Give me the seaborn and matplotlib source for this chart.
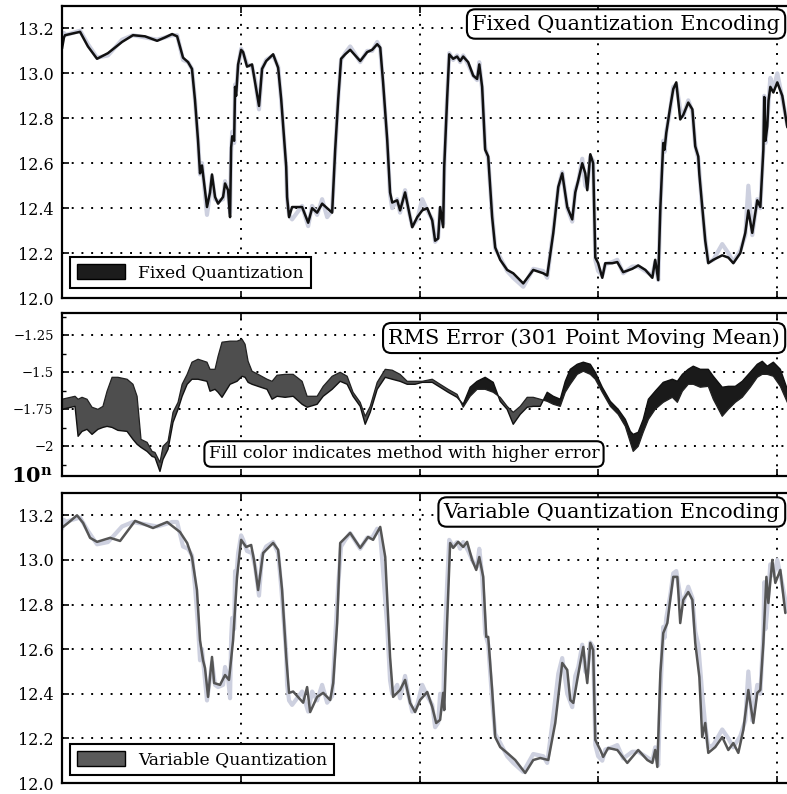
# Fixed vs variable quantization encoding with RMS error between them

import pandas as pd
import matplotlib
matplotlib.use("Agg")
import matplotlib.pyplot as plt
import seaborn as sns
from matplotlib.patches import Patch

# ---- data (sample index, value) ----
fixed_x = [0, 11, 17, 101, 145, 196, 257, 336, 397, 464, 532, 576, 616, 644, 677, 705, 727, 744,
           761, 772, 783, 811, 828, 839, 856, 873, 901, 912, 929, 940, 946, 952, 963, 968, 974,
           985, 1002, 1013, 1035, 1063, 1080, 1102, 1119, 1142, 1181, 1209, 1226, 1237, 1254,
           1259, 1270, 1287, 1343, 1377, 1399, 1427, 1455, 1483, 1511, 1528, 1545, 1561, 1584,
           1612, 1668, 1707, 1735, 1763, 1780, 1796, 1819, 1835, 1847, 1875, 1891, 1919, 1936,
           1959, 1987, 2015, 2043, 2071, 2087, 2104, 2115, 2132, 2138, 2154, 2166, 2188, 2210,
           2227, 2244, 2272, 2300, 2322, 2334, 2350, 2367, 2384, 2406, 2423, 2451, 2490, 2524,
           2580, 2636, 2692, 2714, 2748, 2776, 2798, 2826, 2854, 2871, 2888, 2910, 2927, 2938,
           2955, 2971, 2983, 2999, 3022, 3039, 3078, 3106, 3139, 3190, 3223, 3263, 3302, 3318,
           3335, 3347, 3363, 3370, 3380, 3402, 3419, 3436, 3458, 3475, 3503, 3526, 3542, 3559,
           3565, 3581, 3598, 3615, 3643, 3693, 3727, 3755, 3794, 3822, 3839, 3861, 3889, 3906,
           3923, 3928, 3935, 3945, 3952, 3962, 3979, 4001, 4029, 4057]
fixed_y = [13.11, 13.16, 13.17, 13.185, 13.12, 13.065, 13.09, 13.14, 13.17, 13.165, 13.145, 13.16,
           13.175, 13.165, 13.07, 13.05, 13.02, 12.88, 12.70, 12.555, 12.59, 12.405, 12.47, 12.55,
           12.45, 12.42, 12.45, 12.51, 12.48, 12.36, 12.67, 12.72, 12.70, 12.94, 12.90, 13.04,
           13.105, 13.095, 13.03, 13.04, 12.96, 12.855, 13.02, 13.055, 13.085, 13.025, 12.885,
           12.765, 12.585, 12.45, 12.36, 12.405, 12.405, 12.335, 12.40, 12.38, 12.42, 12.40, 12.38,
           12.66, 12.885, 13.065, 13.085, 13.105, 13.055, 13.095, 13.105, 13.13, 13.115, 12.96,
           12.705, 12.47, 12.425, 12.435, 12.39, 12.47, 12.405, 12.315, 12.36, 12.39, 12.40,
           12.345, 12.255, 12.265, 12.405, 12.315, 12.585, 12.885, 13.085, 13.065, 13.075, 13.055,
           13.075, 13.05, 12.99, 12.975, 13.04, 12.94, 12.66, 12.63, 12.36, 12.225, 12.17, 12.125,
           12.11, 12.065, 12.125, 12.11, 12.10, 12.29, 12.495, 12.555, 12.405, 12.35, 12.47,
           12.525, 12.60, 12.555, 12.48, 12.64, 12.60, 12.18, 12.155, 12.09, 12.155, 12.155,
           12.16, 12.115, 12.13, 12.145, 12.125, 12.09, 12.17, 12.08, 12.405, 12.69, 12.66,
           12.735, 12.85, 12.93, 12.96, 12.795, 12.815, 12.87, 12.84, 12.675, 12.63, 12.55,
           12.405, 12.255, 12.155, 12.17, 12.19, 12.18, 12.155, 12.20, 12.29, 12.39, 12.29,
           12.435, 12.405, 12.66, 12.895, 12.70, 12.765, 12.88, 12.94, 12.915, 12.96, 12.90, 12.76]

# raw signal, drawn light behind both encodings (same sample positions as fixed_x)
raw_y = [13.14, 13.18, 13.17, 13.19, 13.13, 13.07, 13.08, 13.15, 13.17, 13.16, 13.15, 13.16,
         13.17, 13.17, 13.06, 13.05, 13.02, 12.88, 12.70, 12.55, 12.60, 12.37, 12.47, 12.54,
         12.44, 12.43, 12.44, 12.52, 12.47, 12.38, 12.65, 12.74, 12.69, 12.95, 12.92, 13.03,
         13.11, 13.09, 13.04, 13.03, 12.97, 12.84, 13.02, 13.06, 13.08, 13.03, 12.88,
         12.76, 12.58, 12.44, 12.37, 12.35, 12.41, 12.32, 12.41, 12.37, 12.44, 12.36, 12.39,
         12.65, 12.89, 13.06, 13.09, 13.12, 13.05, 13.10, 13.10, 13.14, 13.11, 12.95,
         12.70, 12.46, 12.40, 12.44, 12.38, 12.48, 12.40, 12.32, 12.35, 12.44, 12.39,
         12.35, 12.25, 12.27, 12.40, 12.33, 12.58, 12.89, 13.09, 13.06, 13.08, 13.05,
         13.08, 13.04, 12.99, 12.97, 13.05, 12.93, 12.67, 12.62, 12.37, 12.22, 12.18, 12.12,
         12.09, 12.05, 12.13, 12.12, 12.09, 12.30, 12.49, 12.56, 12.40, 12.34, 12.48,
         12.52, 12.62, 12.50, 12.49, 12.63, 12.61, 12.17, 12.12, 12.10, 12.15, 12.16,
         12.17, 12.11, 12.14, 12.14, 12.12, 12.10, 12.16, 12.08, 12.40, 12.70, 12.65,
         12.74, 12.84, 12.94, 12.95, 12.84, 12.81, 12.88, 12.83, 12.68, 12.62, 12.56,
         12.40, 12.26, 12.16, 12.17, 12.24, 12.20, 12.16, 12.21, 12.28, 12.50, 12.28,
         12.44, 12.40, 12.67, 12.90, 12.69, 12.78, 12.87, 12.98, 12.93, 13.00, 12.89, 12.77]

var_x = [6, 34, 84, 118, 157, 196, 269, 325, 409, 509, 588, 660, 700, 727, 755, 772, 789, 800,
         817, 839, 851, 884, 912, 934, 957, 979, 1002, 1030, 1058, 1074, 1097, 1125, 1181, 1209,
         1231, 1254, 1270, 1293, 1349, 1371, 1388, 1427, 1461, 1500, 1517, 1539, 1556, 1612,
         1668, 1712, 1740, 1780, 1808, 1835, 1852, 1891, 1919, 1947, 1975, 2003, 2043, 2071,
         2093, 2115, 2132, 2138, 2154, 2171, 2188, 2216, 2244, 2266, 2294, 2317, 2334, 2356,
         2373, 2384, 2406, 2423, 2451, 2490, 2535, 2591, 2636, 2675, 2720, 2759, 2798, 2826,
         2843, 2860, 2882, 2899, 2916, 2927, 2938, 2955, 2971, 2983, 3011, 3027, 3055, 3106,
         3162, 3223, 3274, 3302, 3318, 3330, 3347, 3363, 3386, 3402, 3419, 3442, 3458, 3475,
         3503, 3526, 3542, 3565, 3581, 3598, 3615, 3654, 3693, 3727, 3755, 3783, 3811, 3839,
         3867, 3889, 3906, 3923, 3940, 3951, 3973, 3990, 4018, 4046]
var_y = [13.148, 13.166, 13.20, 13.166, 13.099, 13.081, 13.099, 13.085, 13.175, 13.143, 13.17,
         13.125, 13.076, 13.013, 12.865, 12.64, 12.55, 12.515, 12.386, 12.565, 12.448, 12.44,
         12.484, 12.462, 12.64, 12.924, 13.09, 13.058, 13.067, 13.00, 12.865, 13.031, 13.076,
         13.045, 12.865, 12.565, 12.404, 12.41, 12.36, 12.43, 12.318, 12.386, 12.404, 12.372,
         12.448, 12.717, 13.076, 13.121, 13.054, 13.103, 13.09, 13.148, 13.013, 12.565, 12.386,
         12.417, 12.462, 12.359, 12.318, 12.372, 12.408, 12.341, 12.269, 12.283, 12.404, 12.327,
         12.717, 13.076, 13.054, 13.081, 13.058, 13.081, 13.00, 12.955, 13.013, 12.924, 12.655,
         12.655, 12.417, 12.206, 12.161, 12.135, 12.103, 12.045, 12.103, 12.112, 12.103, 12.269,
         12.538, 12.507, 12.372, 12.359, 12.462, 12.538, 12.61, 12.52, 12.448, 12.628, 12.596,
         12.193, 12.148, 12.117, 12.157, 12.148, 12.09, 12.148, 12.103, 12.09, 12.148, 12.072,
         12.493, 12.672, 12.717, 12.821, 12.924, 12.924, 12.717, 12.821, 12.856, 12.821, 12.628,
         12.475, 12.206, 12.269, 12.135, 12.161, 12.206, 12.148, 12.179, 12.135, 12.238, 12.417,
         12.269, 12.404, 12.417, 12.628, 12.924, 12.807, 13.00, 12.897, 12.955, 12.762]

# RMS error, log10, 301 point moving mean
err_x = [0, 73, 90, 112, 140, 168, 201, 229, 252, 280, 313, 364, 397, 420, 442, 476, 504, 520,
         548, 565, 593, 621, 649, 672, 700, 727, 761, 811, 828, 856, 873, 895, 940, 979, 1007,
         1024, 1041, 1063, 1097, 1147, 1175, 1203, 1248, 1293, 1343, 1371, 1427, 1461, 1511,
         1556, 1595, 1628, 1668, 1696, 1724, 1763, 1808, 1847, 1891, 1931, 1975, 2015, 2071,
         2115, 2160, 2210, 2244, 2283, 2322, 2367, 2412, 2451, 2490, 2524, 2563, 2602, 2636,
         2675, 2714, 2748, 2787, 2815, 2843, 2882, 2916, 2955, 2983, 3022, 3067, 3111, 3151,
         3179, 3195, 3223, 3251, 3280, 3318, 3363, 3414, 3442, 3470, 3503, 3531, 3570, 3615,
         3643, 3693, 3727, 3766, 3805, 3850, 3889, 3917, 3945, 3979, 4018, 4057]
err_fixed = [-1.750, -1.730, -1.932, -1.899, -1.885, -1.919, -1.885, -1.872, -1.865, -1.872,
             -1.892, -1.899, -1.953, -1.986, -2.007, -2.034, -2.068, -2.074, -2.169, -2.088,
             -2.020, -1.838, -1.750, -1.662, -1.581, -1.547, -1.547, -1.561, -1.628, -1.615,
             -1.635, -1.669, -1.581, -1.561, -1.527, -1.534, -1.568, -1.581, -1.595, -1.615,
             -1.682, -1.662, -1.669, -1.662, -1.716, -1.736, -1.716, -1.662, -1.615, -1.561,
             -1.581, -1.662, -1.730, -1.851, -1.770, -1.615, -1.534, -1.547, -1.561, -1.581,
             -1.581, -1.568, -1.568, -1.601, -1.635, -1.669, -1.716, -1.601, -1.561, -1.534,
             -1.568, -1.696, -1.750, -1.851, -1.784, -1.736, -1.730, -1.730, -1.635, -1.662,
             -1.682, -1.561, -1.480, -1.446, -1.432, -1.446, -1.500, -1.601, -1.696, -1.750,
             -1.818, -1.899, -1.919, -1.905, -1.818, -1.682, -1.628, -1.568, -1.547, -1.561,
             -1.514, -1.480, -1.459, -1.480, -1.480, -1.527, -1.601, -1.595, -1.595, -1.561,
             -1.500, -1.446, -1.426, -1.459, -1.432, -1.480, -1.615]
err_var = [-1.682, -1.662, -1.682, -1.669, -1.682, -1.736, -1.750, -1.730, -1.628, -1.534,
           -1.534, -1.547, -1.581, -1.662, -1.953, -1.973, -2.034, -2.041, -2.108, -2.000,
           -1.966, -1.770, -1.703, -1.581, -1.514, -1.432, -1.412, -1.432, -1.480, -1.480,
           -1.392, -1.297, -1.290, -1.290, -1.277, -1.311, -1.426, -1.493, -1.514, -1.547,
           -1.561, -1.520, -1.514, -1.514, -1.561, -1.662, -1.662, -1.595, -1.527, -1.500,
           -1.527, -1.635, -1.703, -1.797, -1.730, -1.568, -1.480, -1.486, -1.514, -1.561,
           -1.561, -1.561, -1.547, -1.581, -1.615, -1.649, -1.736, -1.662, -1.615, -1.615,
           -1.635, -1.669, -1.730, -1.770, -1.730, -1.669, -1.669, -1.682, -1.696, -1.716,
           -1.730, -1.635, -1.581, -1.514, -1.493, -1.514, -1.547, -1.635, -1.730, -1.784,
           -1.865, -1.973, -2.034, -2.000, -1.905, -1.818, -1.750, -1.703, -1.669, -1.703,
           -1.628, -1.581, -1.581, -1.601, -1.595, -1.682, -1.797, -1.750, -1.703, -1.669,
           -1.601, -1.534, -1.514, -1.514, -1.527, -1.595, -1.703]

grid_x = [1000, 2000, 3000, 4000]
value_ticks = [12.0, 12.2, 12.4, 12.6, 12.8, 13.0, 13.2]
err_ticks = [-2.0, -1.75, -1.5, -1.25]
err_tick_labels = ["\u22122", "\u22121.75", "\u22121.5", "\u22121.25"]

fixed_df = pd.DataFrame({"sample": fixed_x, "value": fixed_y, "raw": raw_y})
var_df = pd.DataFrame({"sample": var_x, "value": var_y})
err_df = pd.DataFrame({"sample": err_x, "fixed": err_fixed, "variable": err_var})

# ---- style ----
sns.set_theme(style="ticks")
plt.rcParams["font.family"] = ["DejaVu Serif"]
plt.rcParams["mathtext.fontset"] = "dejavuserif"
plt.rcParams["text.color"] = "black"

W, H = 787, 794
fig = plt.figure(figsize=(W / 100, H / 100), dpi=100)
fig.patch.set_facecolor("white")


def px_axes(left, top, right, bottom):
    return fig.add_axes([left / W, 1 - bottom / H, (right - left) / W, (bottom - top) / H])


def style_axes(ax, labelsize):
    ax.set_xlim(0, 4100)
    ax.set_xticks(grid_x)
    ax.set_xticklabels([])
    ax.tick_params(axis="both", which="both", direction="in", color="black", top=True, right=False)
    ax.tick_params(axis="both", which="major", length=5, width=1.2)
    ax.tick_params(axis="y", labelsize=labelsize, pad=6, labelcolor="black")
    for s in ax.spines.values():
        s.set_linewidth(1.6)
        s.set_color("black")
    ax.grid(True, color="black", linestyle=(0, (1, 4)), linewidth=1.4)
    ax.set_axisbelow(True)
    ax.set_xlabel("")
    ax.set_ylabel("")


box = dict(boxstyle="round,pad=0.25,rounding_size=0.4", fc="white", ec="black", lw=1.5)
raw_color = "#cdd0df"

# ---- top: fixed quantization ----
ax1 = px_axes(62, 6, 795, 298)
sns.lineplot(data=fixed_df, x="sample", y="raw", ax=ax1, color=raw_color, lw=3,
             sort=False, estimator=None, legend=False)
sns.lineplot(data=fixed_df, x="sample", y="value", ax=ax1, color="#111111", lw=1.8,
             sort=False, estimator=None, legend=False)
ax1.set_ylim(12.0, 13.3)
ax1.set_yticks(value_ticks)
ax1.set_yticklabels([f"{v:.1f}" for v in value_ticks])
style_axes(ax1, 11.5)
leg = ax1.legend(handles=[Patch(facecolor="#1c1c1c", edgecolor="black", label="Fixed Quantization")],
                 loc="lower left", bbox_to_anchor=(8 / 733, 10 / 292), borderaxespad=0,
                 fancybox=False, framealpha=1, edgecolor="black", fontsize=12.3,
                 handlelength=2.8, handleheight=1.0, borderpad=0.4)
leg.get_frame().set_linewidth(1.5)
fig.text(780 / W, 1 - 24 / H, "Fixed Quantization Encoding", ha="right", va="center",
         fontsize=15, bbox=box)

# ---- middle: RMS error ----
ax2 = px_axes(62, 313, 795, 476)
ex = err_df["sample"]
ax2.fill_between(ex, err_df["fixed"], err_df["variable"],
                 where=err_df["fixed"] >= err_df["variable"], interpolate=True,
                 color="#1a1a1a", lw=0)
ax2.fill_between(ex, err_df["fixed"], err_df["variable"],
                 where=err_df["variable"] >= err_df["fixed"], interpolate=True,
                 color="#4e4e4e", lw=0)
sns.lineplot(data=err_df, x="sample", y="fixed", ax=ax2, color="#111111", lw=1.0,
             sort=False, estimator=None, legend=False)
sns.lineplot(data=err_df, x="sample", y="variable", ax=ax2, color="#222222", lw=0.9,
             sort=False, estimator=None, legend=False)
ax2.set_ylim(-2.2, -1.1)
ax2.set_yticks(err_ticks)
ax2.set_yticklabels(err_tick_labels)
ax2.set_yticks([-2.125, -1.875, -1.625, -1.375, -1.125], minor=True)
style_axes(ax2, 9.5)
ax2.tick_params(axis="y", which="minor", length=3, width=1.0)
fig.text(780 / W, 1 - 338 / H, "RMS Error (301 Point Moving Mean)", ha="right", va="center",
         fontsize=15, bbox=box)
fig.text(404 / W, 1 - 454 / H, "Fill color indicates method with higher error", ha="center",
         va="center", fontsize=12.3, bbox=box)
fig.text(11 / W, 1 - 477 / H, r"$\mathbf{10^{n}}$", ha="left", va="center", fontsize=15)

# ---- bottom: variable quantization ----
ax3 = px_axes(62, 493, 795, 783)
sns.lineplot(data=fixed_df, x="sample", y="raw", ax=ax3, color=raw_color, lw=3,
             sort=False, estimator=None, legend=False)
sns.lineplot(data=var_df, x="sample", y="value", ax=ax3, color="#555555", lw=1.8,
             sort=False, estimator=None, legend=False)
ax3.set_ylim(12.0, 13.3)
ax3.set_yticks(value_ticks)
ax3.set_yticklabels([f"{v:.1f}" for v in value_ticks])
style_axes(ax3, 11.5)
leg = ax3.legend(handles=[Patch(facecolor="#5a5a5a", edgecolor="black", label="Variable Quantization")],
                 loc="lower left", bbox_to_anchor=(8 / 733, 8 / 290), borderaxespad=0,
                 fancybox=False, framealpha=1, edgecolor="black", fontsize=12.3,
                 handlelength=2.8, handleheight=1.0, borderpad=0.4)
leg.get_frame().set_linewidth(1.5)
fig.text(780 / W, 1 - 512 / H, "Variable Quantization Encoding", ha="right", va="center",
         fontsize=15, bbox=box)

fig.savefig("out.png", dpi=100, facecolor="white")
